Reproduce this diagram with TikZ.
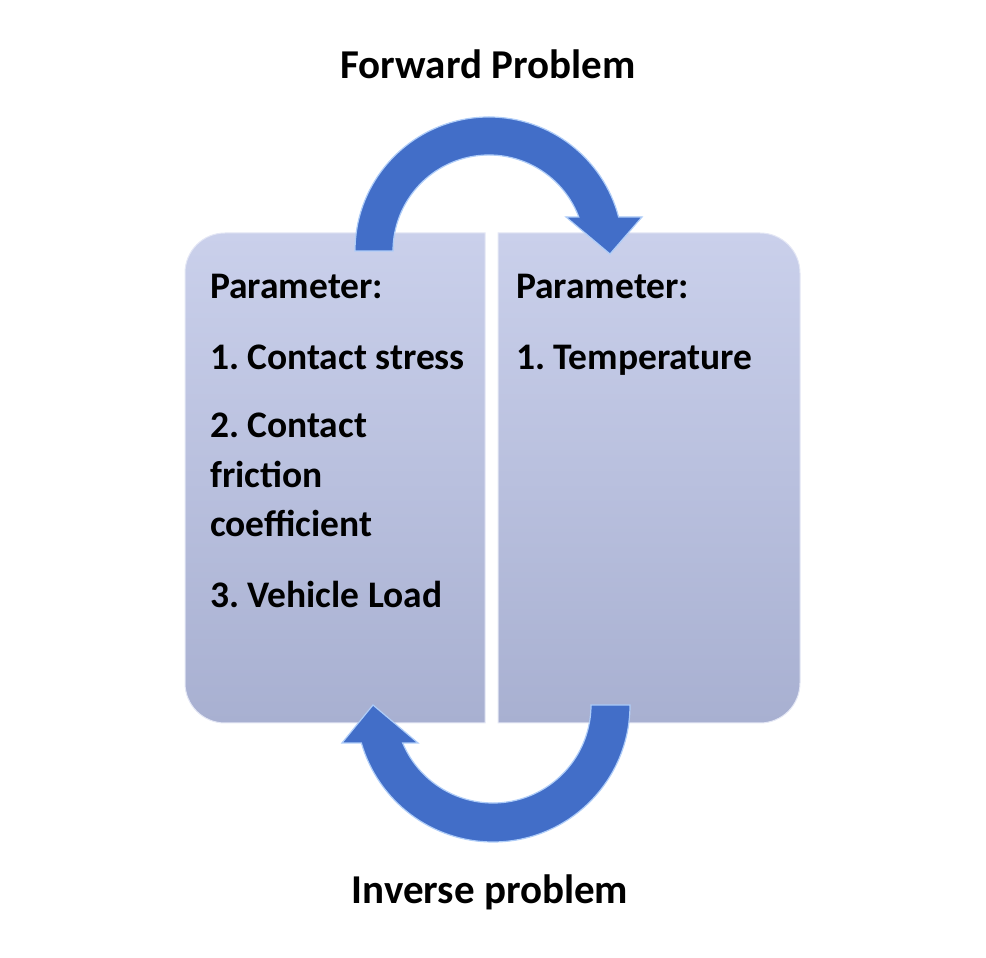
\documentclass[tikz,border=0pt]{standalone}
\usepackage{fontspec}
\setmainfont{Carlito}
\usepackage{tikz}
\usetikzlibrary{positioning, calc}
\definecolor{boxtop}{RGB}{202,208,235}
\definecolor{boxbottom}{RGB}{168,176,209}
\definecolor{arrowblue}{RGB}{66,110,200}
\definecolor{arrowlight}{RGB}{175,205,248}
\newcommand{\numsp}{\hspace{0.22em}}

\begin{document}
\begin{tikzpicture}[x=1pt, y=1pt, every node/.style={draw=none, text=black, inner sep=0pt, anchor=base west, font=\fontsize{37.5}{46}\selectfont\bfseries}]
	\useasboundingbox (0,0) rectangle (986,958);
	\pgfmathsetmacro{\boxr}{40}
	\pgfmathsetmacro{\outr}{134}
	\pgfmathsetmacro{\inr}{96}
	%% the two boxes
	\shade[top color=boxtop, bottom color=boxbottom, draw=boxtop!50!white, line width=1pt] (485,235) -- (185+\boxr,235) arc[start angle=270, end angle=180, radius=\boxr] -- (185,725-\boxr) arc[start angle=180, end angle=90, radius=\boxr] -- (485,725) -- cycle;
	\shade[top color=boxtop, bottom color=boxbottom, draw=boxtop!50!white, line width=1pt] (498,725) -- (800-\boxr,725) arc[start angle=90, end angle=0, radius=\boxr] -- (800,235+\boxr) arc[start angle=0, end angle=-90, radius=\boxr] -- (498,235) -- cycle;
	
	%% forward arrow, over the top
	\coordinate (fwdc) at (489,707);
	\draw[arrowlight, fill=arrowblue, line width=1.2pt] ($(fwdc)+(180:\outr)$) arc[start angle=180, end angle=14.7, radius=\outr] -- (642,741) -- (610,704) -- (566,741) -- ($(fwdc)+(20.7:\inr)$) arc[start angle=20.7, end angle=180, radius=\inr] -- cycle;
	
	%% inverse arrow, under the bottom
	\pgfmathsetmacro{\outrb}{137}
	\pgfmathsetmacro{\inrb}{98}
	\coordinate (invc) at (493,253);
	\draw[arrowlight, fill=arrowblue, line width=1.2pt] ($(invc)+(0:\outrb)$) arc[start angle=0, end angle=-163.9, radius=\outrb] -- (342,215) -- (373,253) -- (418,215) -- ($(invc)+(-157.2:\inrb)$) arc[start angle=-157.2, end angle=0, radius=\inrb] -- cycle;
	
	\node[anchor=base, font=\fontsize{41}{48}\selectfont\bfseries] (fwd) at (488,879) {Forward Problem};
	\node[anchor=base, font=\fontsize{41}{48}\selectfont\bfseries] (inv) at (490,54) {Inverse problem};
	
	\node (lpar) at (210,659) {Parameter:};
	\node (lstress) at (210,588) {1.\numsp Contact stress};
	\node (lfric) at (210,520) {2.\numsp Contact};
	\node (lfricb) at (210,470) {friction};
	\node (lfricc) at (210,421) {coefficient};
	\node (lload) at (210,350) {3.\numsp Vehicle Load};
	
	\node (rpar) at (516,659) {Parameter:};
	\node (rtemp) at (516,588) {1.\numsp Temperature};
\end{tikzpicture}
\end{document}
